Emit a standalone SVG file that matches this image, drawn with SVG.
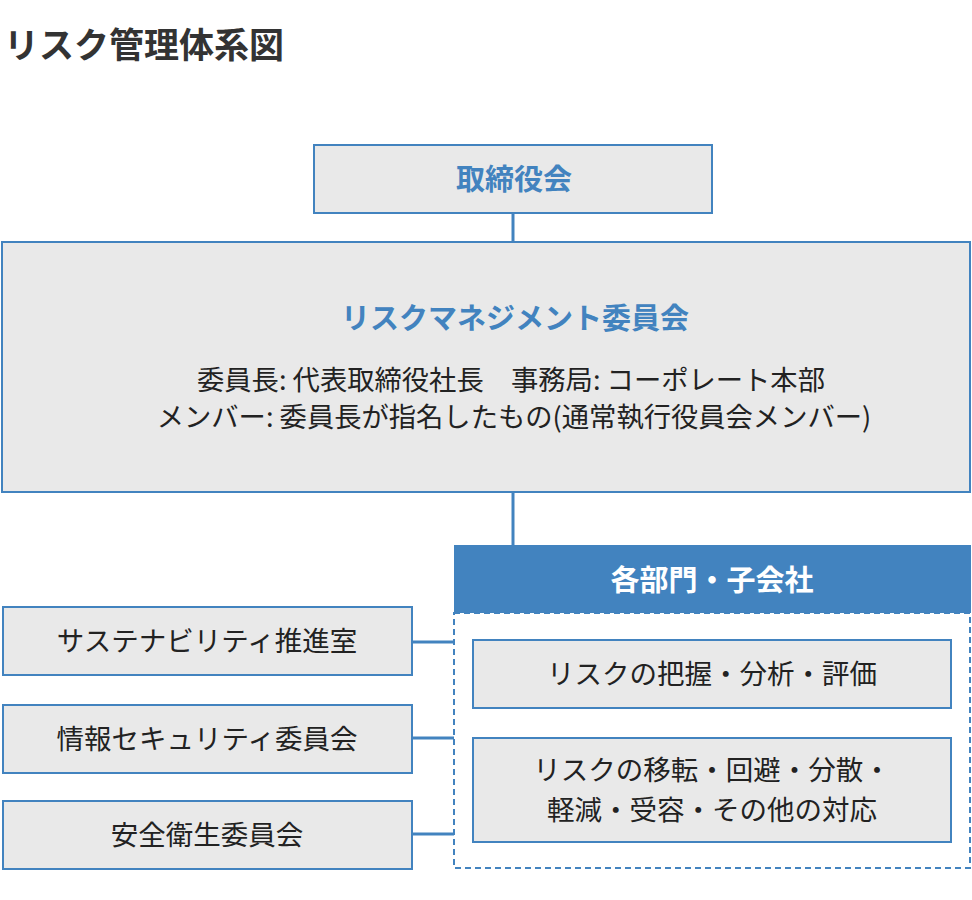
<svg xmlns="http://www.w3.org/2000/svg" width="972" height="900" viewBox="0 0 972 900">
<style>
text{font-family:"Noto Sans CJK JP","Noto Sans",sans-serif;}
.box{fill:#e9e9e9;stroke:#4283bf;stroke-width:2;}
.ttl{font-size:29px;font-weight:bold;fill:#4283bf;text-anchor:middle;}
.lbl{font-size:27.5px;fill:#222;text-anchor:middle;}
.conn{stroke:#4283bf;stroke-width:3;fill:none;}
</style>
<rect width="972" height="900" fill="#fff"/>
<text x="4" y="58" style="font-size:35px;font-weight:bold;fill:#333;">リスク管理体系図</text>
<g id="connectors">
<line class="conn" x1="513" y1="213" x2="513" y2="242"/>
<line class="conn" x1="513" y1="492" x2="513" y2="545"/>
<line class="conn" x1="412" y1="642" x2="454" y2="642"/>
<line class="conn" x1="412" y1="738" x2="454" y2="738"/>
<line class="conn" x1="412" y1="834" x2="454" y2="834"/>
</g>
<g id="board">
<rect class="box" x="314" y="145" width="398" height="68"/>
<text class="ttl" x="514" y="190">取締役会</text>
</g>
<g id="committee">
<rect class="box" x="2" y="242" width="968" height="250"/>
<text class="ttl" x="515" y="329">リスクマネジメント委員会</text>
<text class="lbl" x="511" y="390" style="font-size:27.3px">委員長: 代表取締役社長　事務局: コーポレート本部</text>
<text class="lbl" x="514" y="427" style="font-size:27.3px">メンバー: 委員長が指名したもの(通常執行役員会メンバー)</text>
</g>
<g id="departments">
<rect x="454" y="613" width="516" height="255" fill="#fff" stroke="#4283bf" stroke-width="2" stroke-dasharray="6,4"/>
<rect x="454" y="545" width="517" height="68" fill="#4283bf"/>
<text x="712" y="591" style="font-size:29px;font-weight:bold;fill:#fff;text-anchor:middle;">各部門・子会社</text>
</g>
<g id="assess">
<rect class="box" x="473" y="640" width="478" height="68"/>
<text class="lbl" x="712" y="684">リスクの把握・分析・評価</text>
</g>
<g id="treat">
<rect class="box" x="473" y="738" width="478" height="104"/>
<text class="lbl" x="712" y="780">リスクの移転・回避・分散・</text>
<text class="lbl" x="712" y="820">軽減・受容・その他の対応</text>
</g>
<g id="sustainability">
<rect class="box" x="3" y="607" width="409" height="68"/>
<text class="lbl" x="207" y="651">サステナビリティ推進室</text>
</g>
<g id="infosec">
<rect class="box" x="3" y="705" width="409" height="68"/>
<text class="lbl" x="207" y="749">情報セキュリティ委員会</text>
</g>
<g id="safety">
<rect class="box" x="3" y="801" width="409" height="68"/>
<text class="lbl" x="207" y="845">安全衛生委員会</text>
</g>
</svg>
